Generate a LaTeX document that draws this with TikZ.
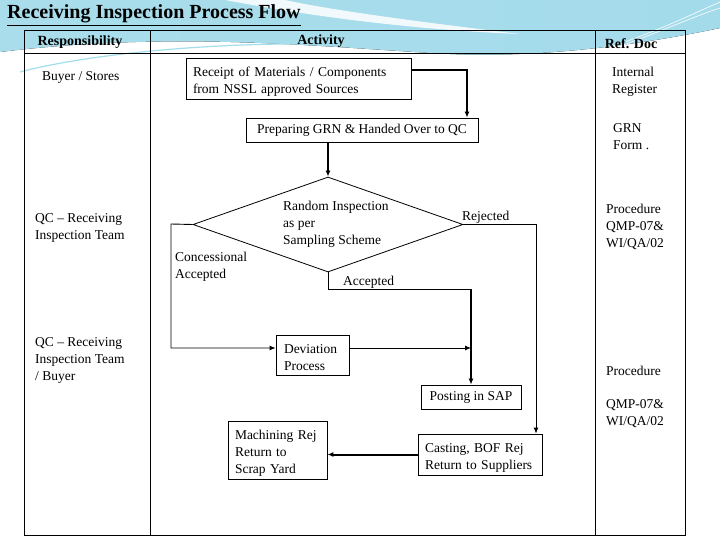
\documentclass[tikz,border=0pt]{standalone}
\usepackage{fontspec}
\setmainfont{Liberation Serif}
\usetikzlibrary{shapes.geometric,arrows.meta}
\definecolor{skya}{HTML}{A9DDEB}
\definecolor{skyb}{HTML}{48BCD9}
\definecolor{skyc}{HTML}{A4DBEB}
\newcommand{\topstrut}{\rule{0pt}{15pt}}
\begin{document}
\begin{tikzpicture}[x=1pt,y=-1pt,
  every node/.style={font=\fontsize{13.5}{17}\selectfont, inner sep=0pt},
  txt/.style={anchor=west, align=left},
  hdr/.style={font=\fontsize{14}{16}\selectfont\bfseries},
  box/.style={draw, line width=0.8pt, fill=white, align=left},
  dia/.style={draw, diamond, line width=0.8pt, minimum width=270pt, minimum height=95pt, inner sep=0pt},
  thk/.style={line width=2pt, -{Latex[length=6pt,width=5pt]}},
  thn/.style={line width=0.9pt, -{Latex[length=6pt,width=5pt]}},
  ln/.style={line width=0.9pt}
]
\useasboundingbox (0,0) rectangle (720,540);
\fill[white] (0,0) rectangle (720,540);
% background swoosh
\fill[left color=skya, middle color=skyb, right color=skyc]
  (0,0) -- (720,0) -- (720,28) .. controls (640,45) and (540,58) .. (450,54)
  .. controls (330,48) and (180,30) .. (0,52) -- cycle;
\fill[white, opacity=0.85] (225,0) .. controls (320,18) and (420,30) .. (520,34)
  .. controls (420,22) and (330,10) .. (285,0) -- cycle;
\draw[white, line width=0.6pt] (600,50) .. controls (650,35) and (690,15) .. (720,2);
\draw[white, line width=0.6pt] (615,48) .. controls (660,32) and (695,16) .. (720,8);
\draw[skyb!50, line width=1.2pt] (20,72) .. controls (80,56) and (200,42) .. (330,44);

% title
\node[anchor=base west, font=\fontsize{20}{23}\selectfont\bfseries] (title) at (7,19) {\underline{Receiving Inspection Process Flow}};

% table
\draw[line width=1pt] (24,31) rectangle (685,535);
\draw[line width=1pt] (150,31) -- (150,535);
\draw[line width=1pt] (595,31) -- (595,535);
\draw[line width=1pt] (24,54) -- (685,54);

\node[hdr] (h1) at (80,42.5) {Responsibility};
\node[hdr] (h2) at (321,41.5) {Activity};
\node[hdr] (h3) at (631,43.5) {Ref. Doc};

% responsibility column
\node[txt] (r1) at (42,77) {Buyer / Stores};
\node[txt] (r2) at (35,228) {QC – Receiving\\Inspection Team};
\node[txt] (r3) at (35,360) {QC – Receiving\\Inspection Team\\/ Buyer};

% ref doc column
\node[txt] (d1) at (612,82) {Internal\\Register};
\node[txt] (d2) at (613,136.5) {GRN\\Form .};
\node[txt] (d3) at (606,226.5) {Procedure\\QMP-07\&\\WI/QA/02};
\node[txt] (d4) at (606,371) {Procedure};
\node[txt] (d5) at (606,413.5) {QMP-07\&\\WI/QA/02};

% activity boxes
\node[box, text width=211pt, inner xsep=7pt, minimum height=41pt] (rec) at (298.5,78.5) {\topstrut Receipt of Materials / Components\\from NSSL approved Sources};
\node[box, minimum width=232pt, minimum height=24pt, align=center] (grn) at (362,130) {Preparing GRN \& Handed Over to QC};
\node[dia] (dia) at (328,224.5) {};
\node[txt] (dt) at (283,224) {Random Inspection\\as per\\Sampling Scheme};
\node[box, text width=57pt, inner xsep=8pt, minimum height=40pt] (dev) at (312.5,355) {\topstrut Deviation\\Process};
\node[box, minimum width=100pt, minimum height=24pt, align=center] (sap) at (471,397) {Posting in SAP};
\node[box, text width=110pt, inner xsep=7pt, minimum height=41pt] (cast) at (480,454.5) {\topstrut Casting, BOF Rej\\Return to Suppliers};
\node[box, text width=85pt, inner xsep=7pt, minimum height=58pt] (mach) at (277.5,450) {\topstrut Machining Rej\\Return to\\Scrap Yard};

% labels
\node[txt] (lrej) at (462,217) {Rejected};
\node[txt] (lconc) at (175,267) {Concessional\\Accepted};
\node[txt] (lacc) at (343,282) {Accepted};

\coordinate (cl) at (171,224);
\coordinate (ac) at (471,289);
\coordinate (dj) at (471,348);

% connectors
\draw[thk] ([yshift=8.5pt]rec.east) -| ([xshift=105pt]grn.north);
\draw[thk] (dia.north |- grn.south) -- (dia.north);
\draw[thn] (dia.east) -| ([xshift=56pt]cast.north);
\draw[thn] (dia.west) -- (cl) |- ([yshift=7pt]dev.west);
\draw[ln] (dia.south) |- (ac);
\draw[thk] (ac) -- (sap.north);
\draw[thn] ([yshift=7pt]dev.east) -- (dj);
\draw[thk] (cast.west) -- (cast.west -| mach.east);
\end{tikzpicture}
\end{document}
